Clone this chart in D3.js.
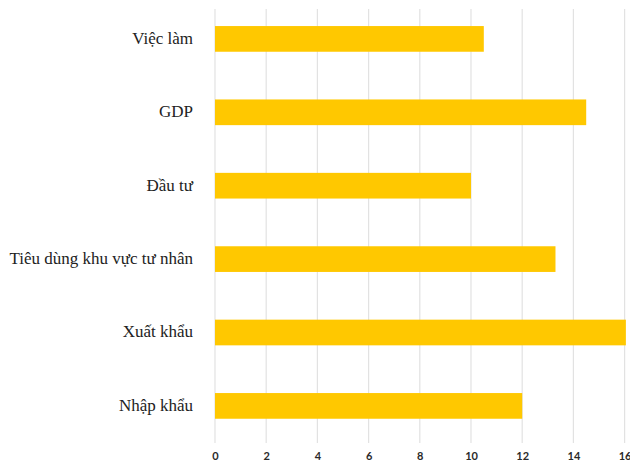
<!DOCTYPE html>
<html>
<head>
<meta charset="utf-8">
<script src="https://cdn.jsdelivr.net/npm/d3@7"></script>
<style>
  body { margin: 0; background: #fff; }
</style>
</head>
<body>
<svg id="chart"></svg>
<script>
const categories = ["Việc làm", "GDP", "Đầu tư", "Tiêu dùng khu vực tư nhân", "Xuất khẩu", "Nhập khẩu"];
const values = [10.5, 14.5, 10, 13.3, 16.05, 12];
const ticks = [0, 2, 4, 6, 8, 10, 12, 14, 16];

const W = 630, H = 471;
const svg = d3.select("#chart").attr("width", W).attr("height", H);

const x = d3.scaleLinear().domain([0, 16]).range([215, 624.6]);

const y = d3.scaleBand()
    .domain(categories)
    .range([2.2, 442.6])
    .paddingInner(0.65)
    .paddingOuter(0.325);

// gridlines
svg.append("g")
    .selectAll("line")
    .data(ticks)
    .join("line")
    .attr("x1", d => x(d)).attr("x2", d => x(d))
    .attr("y1", 9).attr("y2", 443)
    .attr("stroke", "#e2e2e2")
    .attr("stroke-width", 1.2);

// bars
svg.append("g")
    .selectAll("rect")
    .data(categories)
    .join("rect")
    .attr("x", x(0))
    .attr("y", d => y(d))
    .attr("width", (d, i) => x(values[i]) - x(0))
    .attr("height", y.bandwidth())
    .attr("fill", "#ffc800");

// category labels
svg.append("g")
    .selectAll("text")
    .data(categories)
    .join("text")
    .attr("x", 193)
    .attr("y", d => y(d) + y.bandwidth() / 2 - 1)
    .attr("dy", "0.35em")
    .attr("text-anchor", "end")
    .style("font-family", "'Liberation Serif', 'Times New Roman', serif")
    .style("font-size", "17px")
    .style("fill", "#222")
    .text(d => d);

// x axis tick labels
const xAxis = svg.append("g")
    .attr("transform", "translate(0,456)")
    .call(d3.axisBottom(x).tickValues(ticks).tickSize(0).tickPadding(0))
    .call(g => g.select(".domain").remove());

xAxis.selectAll("text")
    .attr("dy", "0.35em")
    .style("font-family", "Lato, 'DejaVu Sans', sans-serif")
    .style("font-size", "11px")
    .style("font-weight", "bold")
    .style("fill", "#2a2a2a");
</script>
</body>
</html>
